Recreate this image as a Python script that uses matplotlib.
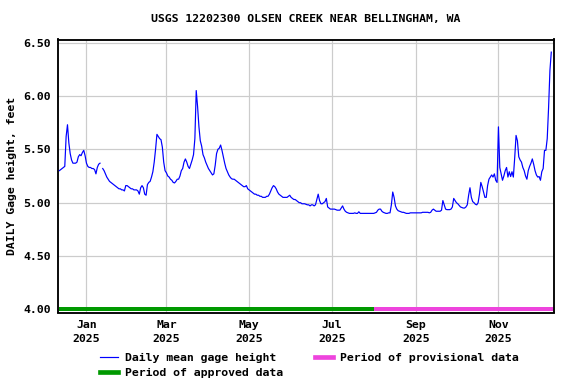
import numpy as np
import pandas as pd
import matplotlib
matplotlib.use("Agg")
import matplotlib.pyplot as plt
from matplotlib.lines import Line2D

# ---------------- data ----------------
start_date = "2024-12-12"
approved_end = "2025-08-01"

dec_2024 = [5.30, 5.31, 5.32, 5.33, 5.34, 5.62, 5.73, 5.56, 5.46, 5.40,
            5.37, 5.37, 5.37, 5.38, 5.43, 5.45, 5.44, 5.47, 5.49, 5.44]
jan_2025 = [5.37, 5.34, 5.33, 5.33, 5.32, 5.32, 5.31, 5.27, 5.33, 5.36,
            5.37, np.nan, 5.32, 5.30, 5.27, 5.24, 5.22, 5.20, 5.19, 5.18,
            5.17, 5.16, 5.15, 5.14, 5.13, 5.13, 5.12, 5.12, 5.11, 5.16, 5.16]
feb_2025 = [5.15, 5.14, 5.13, 5.13, 5.12, 5.12, 5.12, 5.11, 5.08, 5.14,
            5.16, 5.14, 5.08, 5.07, 5.17, 5.19, 5.20, 5.24, 5.29, 5.38,
            5.50, 5.64, 5.62, 5.60, 5.59, 5.52, 5.38, 5.30]
mar_2025 = [5.28, 5.25, 5.24, 5.22, 5.21, 5.19, 5.185, 5.20, 5.22, 5.22,
            5.25, 5.30, 5.32, 5.38, 5.41, 5.38, 5.34, 5.32, 5.36, 5.40,
            5.45, 5.60, 6.05, 5.90, 5.71, 5.58, 5.53, 5.45, 5.42, 5.38, 5.35]
apr_2025 = [5.32, 5.30, 5.28, 5.26, 5.27, 5.35, 5.46, 5.50, 5.51, 5.54,
            5.49, 5.43, 5.37, 5.32, 5.29, 5.26, 5.24, 5.225, 5.22, 5.22,
            5.21, 5.20, 5.19, 5.18, 5.17, 5.16, 5.15, 5.15, 5.16, 5.13]
may_2025 = [5.12, 5.11, 5.10, 5.09, 5.08, 5.08, 5.07, 5.07, 5.06, 5.06,
            5.05, 5.05, 5.05, 5.06, 5.06, 5.08, 5.11, 5.14, 5.16, 5.15,
            5.13, 5.10, 5.08, 5.07, 5.06, 5.05, 5.05, 5.05, 5.05, 5.06, 5.07]
jun_2025 = [5.05, 5.04, 5.03, 5.03, 5.02, 5.01, 5.00, 5.00, 4.99, 4.99,
            4.99, 4.985, 4.98, 4.98, 4.97, 4.98, 4.98, 4.97, 4.98, 5.03,
            5.08, 5.02, 4.99, 4.99, 5.00, 5.01, 5.04, 4.96, 4.95, 4.94]
jul_2025 = [4.94, 4.94, 4.94, 4.935, 4.93, 4.93, 4.93, 4.95, 4.97, 4.94,
            4.92, 4.91, 4.905, 4.90, 4.90, 4.90, 4.90, 4.905, 4.90, 4.90,
            4.915, 4.90, 4.90, 4.90, 4.90, 4.90, 4.90, 4.90, 4.90, 4.90, 4.90]
aug_2025 = [4.90, 4.905, 4.91, 4.93, 4.94, 4.94, 4.92, 4.91, 4.905, 4.90,
            4.90, 4.905, 4.905, 4.98, 5.10, 5.05, 4.97, 4.94, 4.925, 4.92,
            4.915, 4.91, 4.91, 4.905, 4.90, 4.90, 4.90, 4.905, 4.905, 4.905, 4.905]
sep_2025 = [4.905, 4.905, 4.905, 4.905, 4.905, 4.91, 4.91, 4.91, 4.91, 4.91,
            4.905, 4.91, 4.93, 4.94, 4.93, 4.92, 4.92, 4.92, 4.92, 4.93,
            5.02, 4.98, 4.94, 4.935, 4.935, 4.935, 4.94, 4.96, 5.04, 5.02]
oct_2025 = [5.00, 4.99, 4.975, 4.96, 4.955, 4.95, 4.95, 4.96, 4.98, 5.07,
            5.14, 5.05, 5.01, 5.00, 4.985, 4.98, 5.00, 5.08, 5.19, 5.15,
            5.10, 5.05, 5.05, 5.16, 5.22, 5.24, 5.26, 5.24, 5.27, 5.21, 5.19]
nov_2025 = [5.71, 5.33, 5.27, 5.21, 5.25, 5.30, 5.33, 5.24, 5.29, 5.245,
            5.29, 5.24, 5.42, 5.63, 5.58, 5.43, 5.40, 5.38, 5.33, 5.30,
            5.25, 5.22, 5.30, 5.34, 5.37, 5.41, 5.36, 5.30, 5.26, 5.24]
dec_2025 = [5.245, 5.21, 5.29, 5.32, 5.49, 5.49, 5.60, 5.89, 6.24, 6.41]

tick_dates = ["2025-01-01", "2025-03-01", "2025-05-01",
              "2025-07-01", "2025-09-01", "2025-11-01"]
tick_labels = ["Jan\n2025", "Mar\n2025", "May\n2025",
               "Jul\n2025", "Sep\n2025", "Nov\n2025"]
y_ticks = [4.00, 4.50, 5.00, 5.50, 6.00, 6.50]
y_labels = ["4.00", "4.50", "5.00", "5.50", "6.00", "6.50"]

title = "USGS 12202300 OLSEN CREEK NEAR BELLINGHAM, WA"
ylabel = "DAILY Gage height, feet"
legend_labels = ["Daily mean gage height", "Period of approved data",
                 "Period of provisional data"]

# ---------------- build ----------------
values = (dec_2024 + jan_2025 + feb_2025 + mar_2025 + apr_2025 + may_2025 +
          jun_2025 + jul_2025 + aug_2025 + sep_2025 + oct_2025 + nov_2025 +
          dec_2025)
dates = pd.date_range(start_date, periods=len(values), freq="D")
series = pd.Series(values, index=dates)

FONT = "DejaVu Sans Mono"
FS = 8.6
plt.rcParams["font.family"] = [FONT, "DejaVu Sans"]
plt.rcParams["font.weight"] = "bold"
plt.rcParams["font.size"] = FS

W, H = 576, 384
fig = plt.figure(figsize=(W / 96, H / 96), dpi=96)
L, R, T, B = 58, 554, 39.5, 312.5
ax = fig.add_axes([L / W, 1 - B / H, (R - L) / W, (B - T) / H])

blue = "#0000ff"
green = "#009900"
pink = "#ee44dd"
gridc = "#cccccc"

ax.plot(series.index, series.values, color=blue, lw=0.9, zorder=3)

ap_end = pd.Timestamp(approved_end)
ax.plot([dates[0], ap_end], [4.0, 4.0], color=green, lw=3,
        solid_capstyle="butt", zorder=4, clip_on=False)
ax.plot([ap_end, dates[-1] + pd.Timedelta(days=1)], [4.0, 4.0], color=pink,
        lw=3, solid_capstyle="butt", zorder=4, clip_on=False)

ax.set_xlim(pd.Timestamp("2024-12-11"), pd.Timestamp("2025-12-12"))
ax.set_ylim(4.0 - 3 / 106.6, 6.5 + 3 / 106.6)

ax.set_xticks(pd.to_datetime(tick_dates))
ax.set_xticklabels(tick_labels, linespacing=1.45)
ax.set_yticks(y_ticks)
ax.set_yticklabels(y_labels)
ax.tick_params(axis="both", length=0, labelsize=FS)
ax.tick_params(axis="y", pad=5.2)
ax.tick_params(axis="x", pad=6.0)
for lab in ax.get_xticklabels() + ax.get_yticklabels():
    lab.set_fontweight("bold")

ax.grid(True, color=gridc, lw=0.9, zorder=0)
ax.set_axisbelow(True)
for s in ax.spines.values():
    s.set_linewidth(1.4)
    s.set_color("black")

fig.text((L + R) / 2 / W, 1 - 19 / H, title, ha="center", va="center",
         fontsize=FS, fontweight="bold")
fig.text(12 / W, 1 - 176 / H, ylabel, rotation=90, ha="center",
         va="center", fontsize=FS, fontweight="bold")

handles = [Line2D([], [], color=blue, lw=0.9),
           Line2D([], [], color=green, lw=3.5),
           Line2D([], [], color=pink, lw=3.5)]
fig.legend(handles, legend_labels, loc="upper left",
           bbox_to_anchor=(100 / W, 1 - 352.5 / H), ncol=2, frameon=False,
           borderpad=0, borderaxespad=0, handlelength=1.6,
           handletextpad=0.55, columnspacing=2.8, labelspacing=0.5,
           prop={"family": FONT, "weight": "bold", "size": FS})

fig.savefig("out.png", dpi=96)
